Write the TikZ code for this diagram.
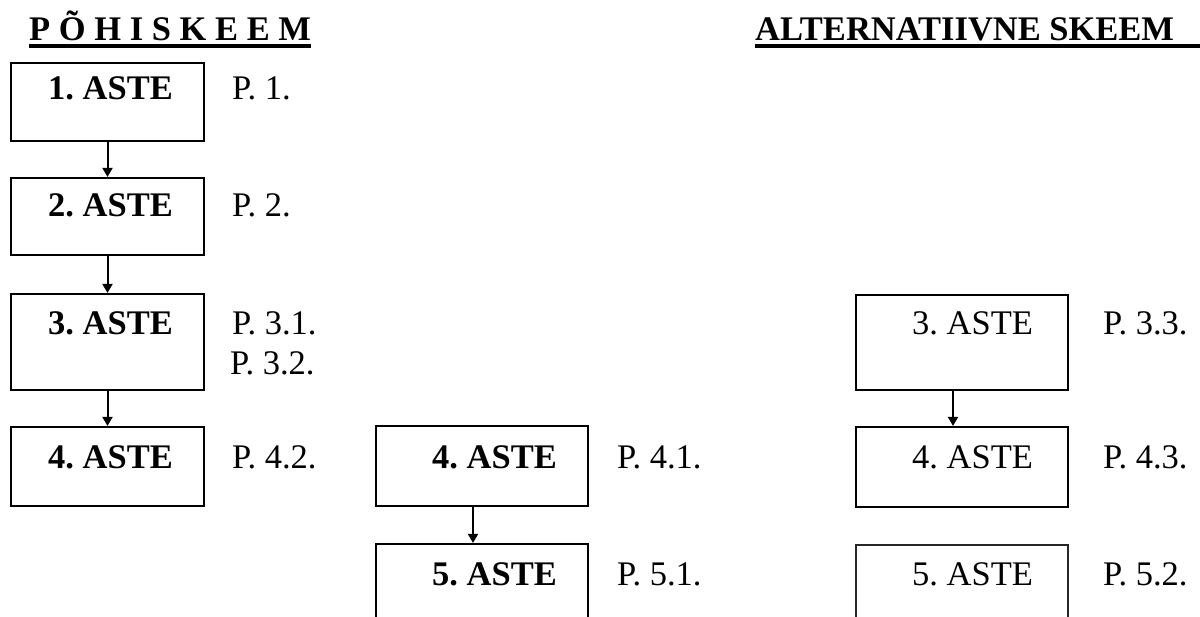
\documentclass[tikz,border=0pt]{standalone}
\usepackage{fontspec}
\setmainfont{Liberation Serif}
\usetikzlibrary{arrows.meta}
\frenchspacing

\tikzset{
  stage/.style={draw=black, line width=2.2pt, rectangle, inner sep=0pt},
  thinstage/.style={draw=black!85, line width=1.3pt, rectangle, inner sep=0pt},
  lbl/.style={anchor=base west, inner sep=0pt, font=\fontsize{34.5}{40}\selectfont},
  blbl/.style={lbl, font=\fontsize{34.5}{40}\selectfont\bfseries},
  flow/.style={line width=2pt, -{Triangle[width=10pt,length=9pt]}},
  rule/.style={line width=3.5pt}
}

\begin{document}
\begin{tikzpicture}[x=1pt, y=-1pt]
  \useasboundingbox (0,0) rectangle (1200,617);
  \clip (0,0) rectangle (1200,617);

  % headings
  \node[blbl] (h1) at (29,41) {P Õ H I S K E E M};
  \node[blbl] (h2) at (755,41) {ALTERNATIIVNE SKEEM};
  \coordinate (h2end) at (1200,46);
  \draw[rule] ([yshift=-5pt]h1.base west) -- ([yshift=-5pt]h1.base east);
  \draw[rule] ([yshift=-5pt]h2.base west) -- (h2end);

  % main chain
  \node[stage, minimum width=193pt, minimum height=78pt] (l1) at (107.5,102) {};
  \node[stage, minimum width=193pt, minimum height=77pt] (l2) at (107.5,216.5) {};
  \node[stage, minimum width=193pt, minimum height=96pt] (l3) at (107.5,342) {};
  \node[stage, minimum width=193pt, minimum height=79pt] (l4) at (107.5,466.5) {};

  \node[blbl] (l1t) at (48,100) {1. ASTE};
  \node[blbl] (l2t) at (48,217) {2. ASTE};
  \node[blbl] (l3t) at (48,335) {3. ASTE};
  \node[blbl] (l4t) at (48,468) {4. ASTE};

  \node[lbl] (p1)  at (232,100) {P. 1.};
  \node[lbl] (p2)  at (232,217) {P. 2.};
  \node[lbl] (p31) at (232,335) {P. 3.1.};
  \node[lbl] (p32) at (230,375) {P. 3.2.};
  \node[lbl] (p42) at (232,468) {P. 4.2.};

  \draw[flow] (l1.south) -- (l2.north);
  \draw[flow] (l2.south) -- (l3.north);
  \draw[flow] (l3.south) -- (l4.north);

  % middle branch
  \node[stage, minimum width=212pt, minimum height=80pt] (m4) at (482,466) {};
  \node[stage, minimum width=212pt, minimum height=156pt] (m5) at (482,622) {};
  \node[blbl] (m4t) at (432,468) {4. ASTE};
  \node[blbl] (m5t) at (432,585) {5. ASTE};
  \node[lbl] (p41) at (617,468) {P. 4.1.};
  \node[lbl] (p51) at (617,585) {P. 5.1.};
  \draw[flow] ([xshift=-9pt]m4.south) -- ([xshift=-9pt]m5.north);

  % alternative branch
  \node[stage, minimum width=212pt, minimum height=95pt] (r3) at (962,342.5) {};
  \node[stage, minimum width=212pt, minimum height=80pt] (r4) at (962,467) {};
  \node[thinstage, minimum width=212pt, minimum height=155pt] (r5) at (962,622.5) {};
  \node[lbl] (r3t) at (912,335) {3. ASTE};
  \node[lbl] (r4t) at (912,468) {4. ASTE};
  \node[lbl] (r5t) at (912,585) {5. ASTE};
  \node[lbl] (p33) at (1103,335) {P. 3.3.};
  \node[lbl] (p43) at (1103,468) {P. 4.3.};
  \node[lbl] (p52) at (1103,585) {P. 5.2.};
  \draw[flow] ([xshift=-9pt]r3.south) -- ([xshift=-9pt]r4.north);
\end{tikzpicture}
\end{document}
